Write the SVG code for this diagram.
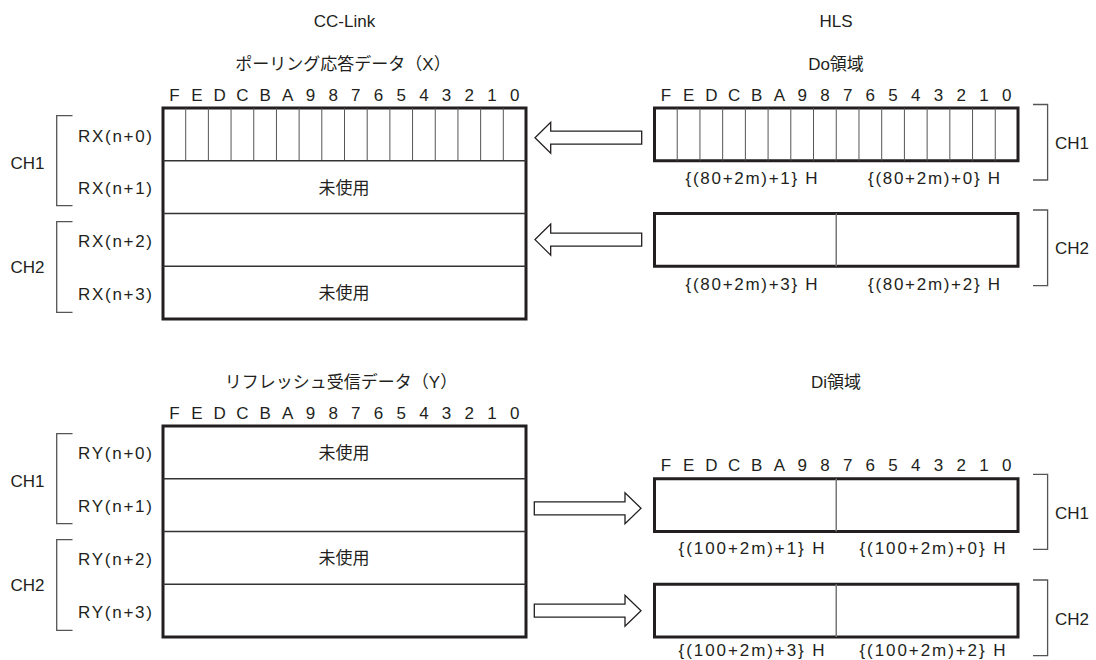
<svg xmlns="http://www.w3.org/2000/svg" width="1096" height="660" viewBox="0 0 1096 660">
<defs>
<style>
text{font-family:"Liberation Sans","Noto Sans CJK JP",Arial,sans-serif;fill:#231f20;font-size:17px}
.c{text-anchor:middle}
.bits tspan{text-anchor:middle}
.addr{font-size:17px;text-anchor:middle}
.box{fill:#fff;stroke:#231f20;stroke-width:3}
.row{stroke:#333;stroke-width:1.3;fill:none}
.cell{stroke:#555;stroke-width:1;fill:none}
.mid{stroke:#777;stroke-width:1.5;fill:none}
.br{fill:none;stroke:#555;stroke-width:1.3}
.arw{fill:#fff;stroke:#231f20;stroke-width:1.3;stroke-linejoin:miter}
</style>
</defs>
<rect width="1096" height="660" fill="#fff"/>

<g id="headers">
<text class="c" x="344.5" y="27">CC-Link</text>
<text class="c" x="836" y="27">HLS</text>
</g>

<!-- Top-left: polling response data -->
<g id="node-rx">
<text class="c" x="343" y="70">ポーリング応答データ（X）</text>
<text class="bits" y="101"><tspan x="174.34">F</tspan><tspan x="197.03">E</tspan><tspan x="219.72">D</tspan><tspan x="242.41">C</tspan><tspan x="265.09">B</tspan><tspan x="287.78">A</tspan><tspan x="310.47">9</tspan><tspan x="333.16">8</tspan><tspan x="355.84">7</tspan><tspan x="378.53">6</tspan><tspan x="401.22">5</tspan><tspan x="423.91">4</tspan><tspan x="446.59">3</tspan><tspan x="469.28">2</tspan><tspan x="491.97">1</tspan><tspan x="514.66">0</tspan></text>
<rect class="box" x="163" y="108" width="363" height="211"/>
<path class="cell" d="M185.69 108V160.75M208.38 108V160.75M231.06 108V160.75M253.75 108V160.75M276.44 108V160.75M299.13 108V160.75M321.81 108V160.75M344.5 108V160.75M367.19 108V160.75M389.88 108V160.75M412.56 108V160.75M435.25 108V160.75M457.94 108V160.75M480.63 108V160.75M503.31 108V160.75"/>
<path class="row" d="M163 160.75H526M163 213.5H526M163 266.25H526"/>
<text class="c" x="344" y="193.6">未使用</text>
<text class="c" x="344" y="299.1">未使用</text>
<text x="78" y="141.5" textLength="74">RX(n+0)</text>
<text x="78" y="194.2" textLength="74">RX(n+1)</text>
<text x="78" y="247" textLength="74">RX(n+2)</text>
<text x="78" y="299.7" textLength="74">RX(n+3)</text>
<path class="br" d="M72.5 115.7H56.7V205.7H72.5"/>
<path class="br" d="M72.5 221.7H56.7V312.3H72.5"/>
<text x="10.5" y="169">CH1</text>
<text x="10.5" y="273.3">CH2</text>
</g>

<!-- Top-right: Do area -->
<g id="node-do">
<text class="c" x="836" y="70">Do領域</text>
<text class="bits" y="101"><tspan x="665.86">F</tspan><tspan x="688.58">E</tspan><tspan x="711.30">D</tspan><tspan x="734.02">C</tspan><tspan x="756.73">B</tspan><tspan x="779.45">A</tspan><tspan x="802.17">9</tspan><tspan x="824.89">8</tspan><tspan x="847.61">7</tspan><tspan x="870.33">6</tspan><tspan x="893.05">5</tspan><tspan x="915.77">4</tspan><tspan x="938.48">3</tspan><tspan x="961.20">2</tspan><tspan x="983.92">1</tspan><tspan x="1006.64">0</tspan></text>
<rect class="box" x="654.5" y="108" width="363.5" height="52.75"/>
<path class="cell" d="M677.22 108V160.75M699.94 108V160.75M722.66 108V160.75M745.38 108V160.75M768.09 108V160.75M790.81 108V160.75M813.53 108V160.75M836.25 108V160.75M858.97 108V160.75M881.69 108V160.75M904.41 108V160.75M927.13 108V160.75M949.84 108V160.75M972.56 108V160.75M995.28 108V160.75"/>
<text class="addr" x="751.6" y="183.5" textLength="132">{(80+2m)+1} H</text>
<text class="addr" x="934" y="183.5" textLength="132">{(80+2m)+0} H</text>
<rect class="box" x="654.5" y="213.5" width="363.5" height="52.75"/>
<path class="mid" d="M836.25 213.5V266.25"/>
<text class="addr" x="751.6" y="289.5" textLength="132">{(80+2m)+3} H</text>
<text class="addr" x="934" y="289.5" textLength="132">{(80+2m)+2} H</text>
<path class="br" d="M1033 104.5H1047.6V180H1033"/>
<path class="br" d="M1033 210H1047.6V285.7H1033"/>
<text x="1055" y="149.4">CH1</text>
<text x="1055" y="254.4">CH2</text>
</g>

<!-- Bottom-left: refresh receive data -->
<g id="node-ry">
<text class="c" x="341" y="388">リフレッシュ受信データ（Y）</text>
<text class="bits" y="419"><tspan x="174.34">F</tspan><tspan x="197.03">E</tspan><tspan x="219.72">D</tspan><tspan x="242.41">C</tspan><tspan x="265.09">B</tspan><tspan x="287.78">A</tspan><tspan x="310.47">9</tspan><tspan x="333.16">8</tspan><tspan x="355.84">7</tspan><tspan x="378.53">6</tspan><tspan x="401.22">5</tspan><tspan x="423.91">4</tspan><tspan x="446.59">3</tspan><tspan x="469.28">2</tspan><tspan x="491.97">1</tspan><tspan x="514.66">0</tspan></text>
<rect class="box" x="163" y="426" width="363" height="211"/>
<path class="row" d="M163 478.75H526M163 531.5H526M163 584.25H526"/>
<text class="c" x="344" y="458.9">未使用</text>
<text class="c" x="344" y="564.4">未使用</text>
<text x="78" y="459.4" textLength="74">RY(n+0)</text>
<text x="78" y="512.1" textLength="74">RY(n+1)</text>
<text x="78" y="564.9" textLength="74">RY(n+2)</text>
<text x="78" y="617.6" textLength="74">RY(n+3)</text>
<path class="br" d="M72.5 433.7H56.7V523.7H72.5"/>
<path class="br" d="M72.5 539.7H56.7V630.3H72.5"/>
<text x="10.5" y="487">CH1</text>
<text x="10.5" y="591.3">CH2</text>
</g>

<!-- Bottom-right: Di area -->
<g id="node-di">
<text class="c" x="836" y="388">Di領域</text>
<text class="bits" y="471"><tspan x="665.86">F</tspan><tspan x="688.58">E</tspan><tspan x="711.30">D</tspan><tspan x="734.02">C</tspan><tspan x="756.73">B</tspan><tspan x="779.45">A</tspan><tspan x="802.17">9</tspan><tspan x="824.89">8</tspan><tspan x="847.61">7</tspan><tspan x="870.33">6</tspan><tspan x="893.05">5</tspan><tspan x="915.77">4</tspan><tspan x="938.48">3</tspan><tspan x="961.20">2</tspan><tspan x="983.92">1</tspan><tspan x="1006.64">0</tspan></text>
<rect class="box" x="654.5" y="478.75" width="363.5" height="52.75"/>
<path class="mid" d="M836.25 478.75V531.5"/>
<text class="addr" x="751.6" y="553.8" textLength="146">{(100+2m)+1} H</text>
<text class="addr" x="932.5" y="553.8" textLength="146">{(100+2m)+0} H</text>
<rect class="box" x="654.5" y="584.25" width="363.5" height="52.75"/>
<path class="mid" d="M836.25 584.25V637"/>
<text class="addr" x="751.6" y="655.5" textLength="146">{(100+2m)+3} H</text>
<text class="addr" x="932.5" y="655.5" textLength="146">{(100+2m)+2} H</text>
<path class="br" d="M1033 474.3H1047.6V549.3H1033"/>
<path class="br" d="M1033 580H1047.6V655.7H1033"/>
<text x="1055" y="519">CH1</text>
<text x="1055" y="625">CH2</text>
</g>

<g id="connectors">
<path class="arw" d="M641.7 131.2H550.7V122.2L535 137.7L550.7 153.2V144.2H641.7Z"/>
<path class="arw" d="M641.7 233.1H550.7V224.1L535 239.6L550.7 255.1V246.1H641.7Z"/>
<path class="arw" d="M534.3 501.8H625V492.8L641 508.3L625 523.8V514.8H534.3Z"/>
<path class="arw" d="M534.3 604.2H625V595.2L641 610.7L625 626.2V617.2H534.3Z"/>
</g>
</svg>
